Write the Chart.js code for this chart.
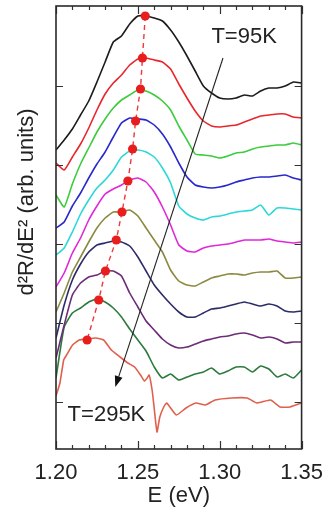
<!DOCTYPE html>
<html>
<head>
<meta charset="utf-8">
<script src="https://cdn.jsdelivr.net/npm/chart.js@4.4.1/dist/chart.umd.min.js"></script>
<style>
html,body{margin:0;padding:0;background:#fff;}
#wrap{width:334px;height:515px;}
</style>
</head>
<body>
<div id="wrap"><canvas id="c" width="334" height="515"></canvas></div>
<script>
// ---- data ----
const energy = [1.200,1.205,1.210,1.215,1.220,1.225,1.230,1.235,1.240,1.245,1.250,1.255,1.260,1.265,1.270,1.275,1.280,1.285,1.290,1.295,1.300,1.305,1.310,1.315,1.320,1.325,1.330,1.335,1.340,1.345,1.350];
const temperatures = ["95K","115K","135K","155K","175K","195K","215K","235K","255K","275K","295K"];
const colors = ["#1c1c1c","#e8262e","#3ccc3c","#2828cc","#2ed8d8","#e028d8","#8c8a40","#2c2c68","#6c2c78","#2c7a3c","#e0604e"];

const curve95K  = [299,309,320,334,348,367,387,407,413,425,433,433,431,428,419,407,393,378,363,356,351,350,351,354,353,358,361,361,363,367,366];
const curve115K = [286,279,292,305,321,339,355,366,374,384,390,391,389,387,380,365,351,338,328,323,322,323,324,327,330,333,334,335,335,332,331];
const curve135K = [254,242,265,285,301,317,330,341,349,354,359,358,354,348,339,323,309,295,294,293,291,293,296,297,300,302,303,304,304,306,304];
const curve155K = [221,227,243,256,271,285,297,312,326,331,330,329,324,315,302,286,272,264,262,261,262,264,267,269,271,272,272,273,274,271,269];
const curve175K = [194,201,217,235,249,261,269,279,292,298,299,297,292,281,266,243,235,231,229,232,233,235,237,238,239,244,234,241,241,240,239];
const curve195K = [162,176,196,211,229,243,255,260,264,269,271,267,257,242,224,204,198,197,201,203,204,205,207,209,209,209,210,208,207,206,207];
const curve215K = [137,156,177,192,207,221,231,237,237,239,233,221,209,197,179,168,164,163,167,171,173,175,175,174,176,177,177,178,171,171,172];
const curve235K = [111,144,169,185,197,204,206,208,207,203,192,178,164,154,145,137,132,132,136,140,141,143,145,147,145,143,145,143,138,137,138];
const curve255K = [91,124,154,166,172,174,178,178,173,156,142,128,119,110,104,101,102,105,108,110,112,113,115,116,114,111,112,110,106,107,107];
const curve275K = [71,122,136,141,147,150,147,141,132,120,109,98,82,71,75,69,72,75,77,81,75,78,82,82,77,83,80,72,75,71,79];

const energy295K = [1.2000,1.2024,1.2047,1.2065,1.2101,1.2142,1.2190,1.2243,1.2291,1.2338,1.2391,1.2439,1.2480,1.2516,1.2540,1.2557,1.2569,1.2587,1.2599,1.2617,1.2634,1.2658,1.2676,1.2735,1.2794,1.2854,1.2913,1.2972,1.3073,1.3168,1.3227,1.3310,1.3369,1.3429,1.3500];
const curve295K  = [53,66,89,94,104,109,110,111,109,99,92,86,82,74,68,71,74,59,42,17,32,42,46,34,41,46,44,49,51,51,46,49,42,42,46];

const peakEnergy = [1.2545,1.2528,1.2516,1.2486,1.2468,1.2439,1.2403,1.2368,1.2302,1.2261,1.2190];
const peakValue  = [433,391,360,328,300,268,237,209,178,149,109];

const xTickLabels = ["1.20","1.25","1.30","1.35"];
const xMinorTicks = [1.20,1.21,1.22,1.23,1.24,1.25,1.26,1.27,1.28,1.29,1.30,1.31,1.32,1.33,1.34,1.35];
const xMajorTicks = [1.20,1.25,1.30,1.35];
const yTicks = [47,126,205,284,363];

const arrowFrom = {x:1.302, y:391};
const arrowTo   = {x:1.2362, y:62};
const labelLow  = {x:1.2949, y:412, text:"T=95K"};
const labelHigh = {x:1.2071, y:34,  text:"T=295K"};

// ---- build datasets ----
const series = [curve95K,curve115K,curve135K,curve155K,curve175K,curve195K,curve215K,curve235K,curve255K,curve275K];
const datasets = [];
datasets.push({
  label:"peak",
  data: peakEnergy.map((e,i)=>({x:e,y:peakValue[i]})),
  borderColor:"#ec3a3a",
  borderWidth:1.4,
  borderDash:[5,4],
  pointRadius:4.6,
  pointBackgroundColor:"#e81e1e",
  pointBorderWidth:0,
  showLine:true,
  tension:0
});
series.forEach((s,k)=>{
  datasets.push({
    label:temperatures[k],
    data: energy.map((e,i)=>({x:e,y:s[i]})),
    borderColor:colors[k],
    borderWidth:1.6,
    pointRadius:0,
    tension:0.15
  });
});
datasets.push({
  label:temperatures[10],
  data: energy295K.map((e,i)=>({x:e,y:curve295K[i]})),
  borderColor:colors[10],
  borderWidth:1.6,
  pointRadius:0,
  tension:0.15
});

const FONT = "'Liberation Sans', Arial, sans-serif";

const decor = {
  id:'decor',
  afterDatasetsDraw(chart){
    const {ctx, scales:{x,y}} = chart;
    ctx.save();
    // arrow
    const x1=x.getPixelForValue(arrowFrom.x), y1=y.getPixelForValue(arrowFrom.y);
    const x2=x.getPixelForValue(arrowTo.x),   y2=y.getPixelForValue(arrowTo.y);
    ctx.strokeStyle="#222"; ctx.fillStyle="#111"; ctx.lineWidth=1.1;
    const ang=Math.atan2(y2-y1,x2-x1);
    const hl=11, hw=4;
    const bx=x2-hl*Math.cos(ang), by=y2-hl*Math.sin(ang);
    ctx.beginPath(); ctx.moveTo(x1,y1); ctx.lineTo(bx,by); ctx.stroke();
    ctx.beginPath();
    ctx.moveTo(x2,y2);
    ctx.lineTo(bx+hw*Math.sin(ang), by-hw*Math.cos(ang));
    ctx.lineTo(bx-hw*Math.sin(ang), by+hw*Math.cos(ang));
    ctx.closePath(); ctx.fill();
    // annotations
    ctx.fillStyle="#222";
    ctx.font="22px "+FONT;
    ctx.textAlign="left"; ctx.textBaseline="middle";
    [labelLow,labelHigh].forEach(l=>{
      ctx.fillText(l.text, x.getPixelForValue(l.x), y.getPixelForValue(l.y));
    });
    ctx.restore();
  },
  afterDraw(chart){
    const {ctx, chartArea:a, scales:{x,y}} = chart;
    ctx.save();
    ctx.strokeStyle="#333"; ctx.lineWidth=1.2;
    ctx.beginPath();
    xMinorTicks.forEach(v=>{
      const px=Math.round(x.getPixelForValue(v))+0.5;
      const L = xMajorTicks.some(m=>Math.abs(m-v)<1e-6) ? 8 : 4;
      ctx.moveTo(px,a.bottom); ctx.lineTo(px,a.bottom-L);
      ctx.moveTo(px,a.top); ctx.lineTo(px,a.top+L);
    });
    yTicks.forEach(v=>{
      const py=Math.round(y.getPixelForValue(v))+0.5;
      ctx.moveTo(a.left,py); ctx.lineTo(a.left+7,py);
      ctx.moveTo(a.right,py); ctx.lineTo(a.right-7,py);
    });
    ctx.stroke();
    ctx.lineWidth=1.6; ctx.strokeStyle="#2a2a2a";
    ctx.strokeRect(a.left,a.top,a.right-a.left,a.bottom-a.top);
    // y axis title
    ctx.fillStyle="#222";
    ctx.font="22px "+FONT;
    ctx.textAlign="center"; ctx.textBaseline="middle";
    ctx.translate(27, 202);
    ctx.rotate(-Math.PI/2);
    ctx.fillText("d\u00b2R/dE\u00b2 (arb. units)",0,0);
    ctx.restore();
  }
};

new Chart(document.getElementById('c'), {
  type:'line',
  data:{datasets},
  options:{
    responsive:false,
    devicePixelRatio:1,
    animation:false,
    layout:{padding:{left:56,right:25,top:6,bottom:0}},
    plugins:{legend:{display:false},tooltip:{enabled:false}},
    scales:{
      x:{
        type:'linear', min:1.2, max:1.35,
        grid:{display:false, drawTicks:false},
        border:{display:false},
        ticks:{
          stepSize:0.05,
          padding:11,
          color:"#222",
          font:{family:FONT,size:22},
          maxRotation:0,
          callback:(v)=>{const s=Number(v).toFixed(2); return xTickLabels.includes(s)?s:"";}
        },
        title:{display:true,text:"E (eV)",color:"#222",font:{family:FONT,size:22},padding:{top:0,bottom:6}},
        afterFit:(s)=>{s.height=66;}
      },
      y:{
        type:'linear', min:0, max:443,
        display:false
      }
    }
  },
  plugins:[decor]
});
</script>
</body>
</html>
